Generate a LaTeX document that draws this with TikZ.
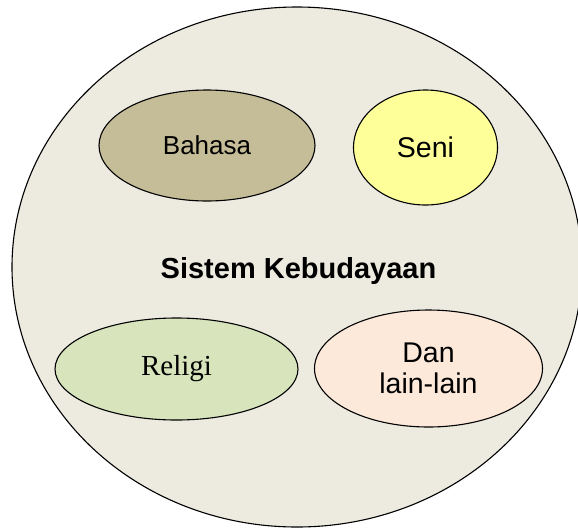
\documentclass[tikz,border=0pt]{standalone}
\usepackage{fontspec}
\setmainfont{Liberation Sans}
\newfontfamily\serifrm{Liberation Serif}
\usetikzlibrary{shapes.geometric}
\definecolor{outerfill}{HTML}{EDEBE0}
\definecolor{bahasafill}{HTML}{C4BD97}
\definecolor{senifill}{HTML}{FFFF99}
\definecolor{religifill}{HTML}{D7E4BC}
\definecolor{danfill}{HTML}{FDE9D9}
\tikzset{
  bubble/.style={ellipse, draw=black, line width=1.1pt, inner sep=0pt, align=center},
}
\begin{document}
\begin{tikzpicture}[x=1pt,y=-1pt]
\useasboundingbox (0,0) rectangle (578,528);
\node[bubble, fill=outerfill, minimum width=570pt, minimum height=520pt] (outer) at (297,267) {};
\node[font=\bfseries\fontsize{29}{33}\selectfont] (title) at (298.5,271) {Sistem Kebudayaan};
\node[bubble, fill=bahasafill, minimum width=216pt, minimum height=111pt, font=\fontsize{26}{30}\selectfont] (bahasa) at (207,145.5) {Bahasa};
\node[bubble, fill=senifill, minimum width=144pt, minimum height=115pt, font=\fontsize{28.5}{32}\selectfont] (seni) at (425.5,147.5) {Seni};
\node[bubble, fill=religifill, minimum width=243pt, minimum height=102pt, font=\serifrm\fontsize{29}{33}\selectfont] (religi) at (176.5,369) {\raisebox{-3pt}{Religi}};
\node[bubble, fill=danfill, minimum width=228pt, minimum height=117pt, font=\fontsize{28.5}{31.6}\selectfont] (dan) at (428.5,368.5) {Dan\\lain-lain};
\end{tikzpicture}
\end{document}
